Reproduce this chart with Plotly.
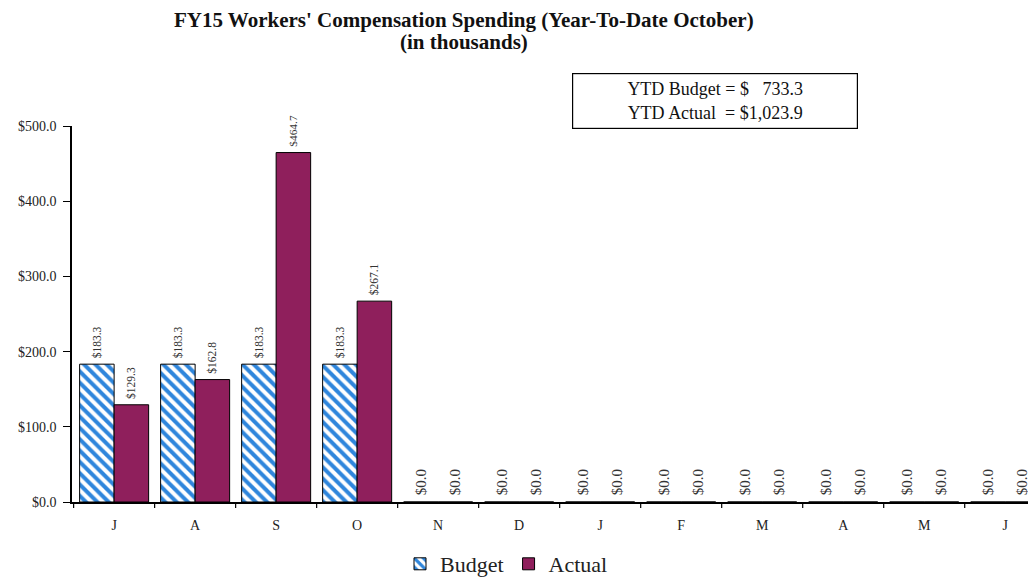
import plotly.graph_objects as go

months = ["J", "A", "S", "O", "N", "D", "J", "F", "M", "A", "M", "J"]
budget = [183.3, 183.3, 183.3, 183.3, 0, 0, 0, 0, 0, 0, 0, 0]
actual = [129.3, 162.8, 464.7, 267.1, 0, 0, 0, 0, 0, 0, 0, 0]
yticks = [0, 100, 200, 300, 400, 500]
ytick_labels = ["$0.0", "$100.0", "$200.0", "$300.0", "$400.0", "$500.0"]
ytd_budget = "$   733.3"
ytd_actual = "$1,023.9"

x = list(range(len(months)))
serif = "Liberation Serif, Times New Roman, serif"

# page is offset by the 8px body margin
OFF = 8
W, H = 1036 - OFF, 582 - OFF
L, T, B = 72 - OFF, 126 - OFF, 582 - 502
PW, PH = W - L, H - T - B


def px_x(p):
    return (p - OFF - L) / PW


def px_y(p):
    return (H - B - (p - OFF)) / PH


def fmt(v):
    return f" ${v:,.1f}"


fig = go.Figure()
fig.add_trace(go.Bar(
    x=x, y=budget, name="Budget",
    marker=dict(color="white", line=dict(color="black", width=1),
                pattern=dict(shape="\\", fgcolor="#2f86dc", bgcolor="white",
                             fgopacity=1, size=8, solidity=0.5)),
    text=[fmt(v) for v in budget], textposition="outside", textangle=-90,
    textfont=dict(family=serif, size=15, color="#333333"), cliponaxis=False,
))
fig.add_trace(go.Bar(
    x=x, y=actual, name="Actual",
    marker=dict(color="#8f1f5c", line=dict(color="black", width=1)),
    text=[fmt(v) for v in actual], textposition="outside", textangle=-90,
    textfont=dict(family=serif, size=15, color="#333333"), cliponaxis=False,
))

fig.update_layout(
    width=W, height=H,
    margin=dict(l=L, r=0, t=T, b=B, autoexpand=False),
    paper_bgcolor="white", plot_bgcolor="white",
    barmode="group", bargap=0.148, bargroupgap=0,
    font=dict(family=serif, color="#222222"),
    showlegend=True,
    legend=dict(orientation="h", x=px_x(400), y=px_y(543), xanchor="left", yanchor="top",
                font=dict(family=serif, size=22, color="#222222"), itemwidth=30,
                traceorder="normal"),
)
fig.update_xaxes(
    range=[-0.52, 11.38], tickmode="array", tickvals=x, ticktext=months,
    showline=True, linecolor="black", linewidth=1.5, ticks="",
    tickfont=dict(family=serif, size=14, color="#222222"), ticklabelstandoff=9,
    showgrid=False, zeroline=False, automargin=False,
)
fig.update_yaxes(
    range=[0, 500], tickmode="array", tickvals=yticks, ticktext=ytick_labels,
    showline=True, linecolor="black", linewidth=1.5,
    ticks="outside", ticklen=7, tickcolor="black", ticklabelstandoff=4,
    tickfont=dict(family=serif, size=14, color="#222222"),
    showgrid=False, zeroline=False, automargin=False,
)
# category boundary ticks on x axis
for b in [i - 0.5 for i in range(0, 12)]:
    fig.add_shape(type="line", xref="x", yref="paper", x0=b, x1=b, y0=0, y1=-0.016,
                  line=dict(color="black", width=1.2))

# title lines
fig.add_annotation(xref="paper", yref="paper", x=px_x(464), y=px_y(20),
                   text="<b>FY15 Workers' Compensation Spending (Year-To-Date October)</b>",
                   showarrow=False, xanchor="center", yanchor="middle",
                   font=dict(family=serif, size=21, color="#111111"))
fig.add_annotation(xref="paper", yref="paper", x=px_x(464), y=px_y(42),
                   text="<b>(in thousands)</b>",
                   showarrow=False, xanchor="center", yanchor="middle",
                   font=dict(family=serif, size=21, color="#111111"))

fig.add_annotation(
    xref="paper", yref="paper", x=px_x(715), y=px_y(101),
    text=f"YTD Budget = {ytd_budget}<br>YTD Actual  = {ytd_actual}",
    showarrow=False, align="center", xanchor="center", yanchor="middle",
    font=dict(family=serif, size=18, color="#111111"),
    bordercolor="black", borderwidth=1.2, borderpad=5, bgcolor="white",
    width=274,
)

fig.write_html("out.html")
